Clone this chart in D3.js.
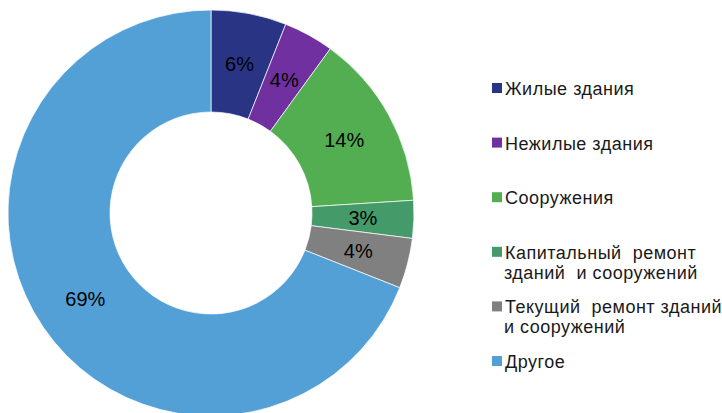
<!DOCTYPE html>
<html>
<head>
<meta charset="utf-8">
<script src="https://cdn.jsdelivr.net/npm/d3@7"></script>
<style>
  body { margin: 0; background: #fff; }
  svg { display: block; font-family: "Liberation Sans", Arial, sans-serif; }
</style>
</head>
<body>
<svg id="chart"></svg>
<script>
// --- Data ---
const categories = [
    "Жилые здания",
    "Нежилые здания",
    "Сооружения",
    "Капитальный  ремонт|зданий  и сооружений",
    "Текущий  ремонт зданий|и сооружений",
    "Другое"
];
const values = [6, 4, 14, 3, 4, 69];
const colors = ["#293584", "#7030A0", "#52AE50", "#449A68", "#808080", "#53A0D7"];

// --- Setup ---
const width = 722;
const height = 413;
const cx = 211, cy = 213;
const outerRadius = 203;
const innerRadius = 101;

const svg = d3.select("#chart")
    .attr("width", width)
    .attr("height", height)
    .attr("viewBox", [0, 0, width, height]);

const color = d3.scaleOrdinal().domain(categories).range(colors);

const pie = d3.pie().sort(null).value(d => d.value);
const arc = d3.arc().innerRadius(innerRadius).outerRadius(outerRadius);

const data = categories.map((c, i) => ({ name: c, value: values[i] }));
const arcs = pie(data);

const g = svg.append("g").attr("transform", `translate(${cx},${cy})`);

// slices
g.selectAll("path")
  .data(arcs)
  .join("path")
    .attr("d", arc)
    .attr("fill", d => color(d.data.name))
    .attr("stroke", "#ffffff")
    .attr("stroke-width", 0.7);

// percentage labels
g.selectAll("text")
  .data(arcs)
  .join("text")
    .attr("transform", d => `translate(${arc.centroid(d)})`)
    .attr("text-anchor", "middle")
    .attr("dy", "0.36em")
    .attr("font-size", 20)
    .attr("fill", "#000")
    .text(d => d.data.value + "%");

// --- Legend ---
const legendY = d3.scaleLinear().domain([0, categories.length - 1]).range([95, 368]);
const legend = svg.append("g")
  .selectAll("g")
  .data(categories)
  .join("g")
    .attr("transform", (d, i) => `translate(492,${legendY(i)})`);

legend.append("rect")
    .attr("x", 0)
    .attr("y", -12)
    .attr("width", 10)
    .attr("height", 10)
    .attr("fill", d => color(d));

legend.append("text")
    .attr("x", 13)
    .attr("font-size", 18)
    .attr("letter-spacing", 0.5)
    .attr("fill", "#1a1a1a")
    .style("white-space", "pre")
  .selectAll("tspan")
  .data(d => d.split("|"))
  .join("tspan")
    .attr("x", (d, i) => i === 0 ? 13 : 12)
    .attr("dy", (d, i) => i === 0 ? 0 : 20)
    .text(d => d);
</script>
</body>
</html>
